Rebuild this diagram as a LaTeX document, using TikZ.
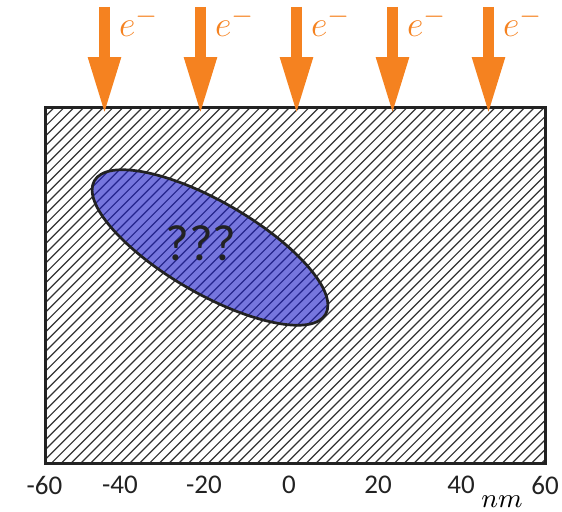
\documentclass[tikz,border=0pt]{standalone}
\usepackage{fontspec}
\setsansfont{Carlito}
\usepackage{tikz}
\usetikzlibrary{arrows.meta}
\definecolor{beamorange}{RGB}{245,130,32}
\definecolor{blobblue}{RGB}{27,27,200}
\definecolor{frame}{RGB}{34,34,34}

\begin{document}
\begin{tikzpicture}[x=0.3333pt,y=0.3333pt,
    hatch/.style={line width=0.4pt, color=black!80},
    beam/.style={line width=3.7pt, color=beamorange, -{Triangle[width=10pt,length=19.3pt]}},
    beamlabel/.style={anchor=base west, inner sep=0pt, text=beamorange, font=\fontsize{13}{15}\selectfont},
    ticklabel/.style={inner sep=0pt, text=frame, font=\sffamily\fontsize{9}{11}\selectfont}]

\useasboundingbox (0,0) rectangle (562,511);

\coordinate (sw) at (45,48);
\coordinate (ne) at (545,404);

% hatched sample
\begin{scope}
\clip (sw) rectangle (ne);
\foreach \k in {0,...,90} {
    \pgfmathsetmacro{\xs}{-311+9.8*\k}
    \draw[hatch] (\xs,48) -- ++(356,356);
};
\end{scope}

% the unknown inclusion
\coordinate (blob) at (210,263.5);
\fill[blobblue, fill opacity=0.6, rotate around={-30:(blob)}] (blob) ellipse [x radius=133.5, y radius=46];
\draw[frame, line width=0.9pt, rotate around={-30:(blob)}] (blob) ellipse [x radius=133.5, y radius=46];
\node[inner sep=0pt, text=frame, font=\sffamily\fontsize{17}{19}\selectfont] (q) at (201,267.5) {???};

\draw[frame, line width=1pt] (sw) rectangle (ne);

% electron beams
\foreach \i/\x in {1/104.5,2/200.5,3/296.5,4/392.5,5/488.5} {
    \coordinate (tail\i) at (\x,504);
    \coordinate (tip\i) at (\x,396);
    \draw[beam] (tail\i) -- (tip\i);
    \node[beamlabel] (e\i) at (\x+14,474) {$e^{-}$};
};

% axis
\foreach \t/\x in {-60/44.5,-40/120,-20/204,0/289,20/378,40/461,60/545} {
    \node[ticklabel] (t\t) at (\x,26) {\t};
};
\node[anchor=base, inner sep=0pt, font=\fontsize{9.5}{11}\selectfont] (unit) at (502,4) {$nm$};

\end{tikzpicture}
\end{document}
